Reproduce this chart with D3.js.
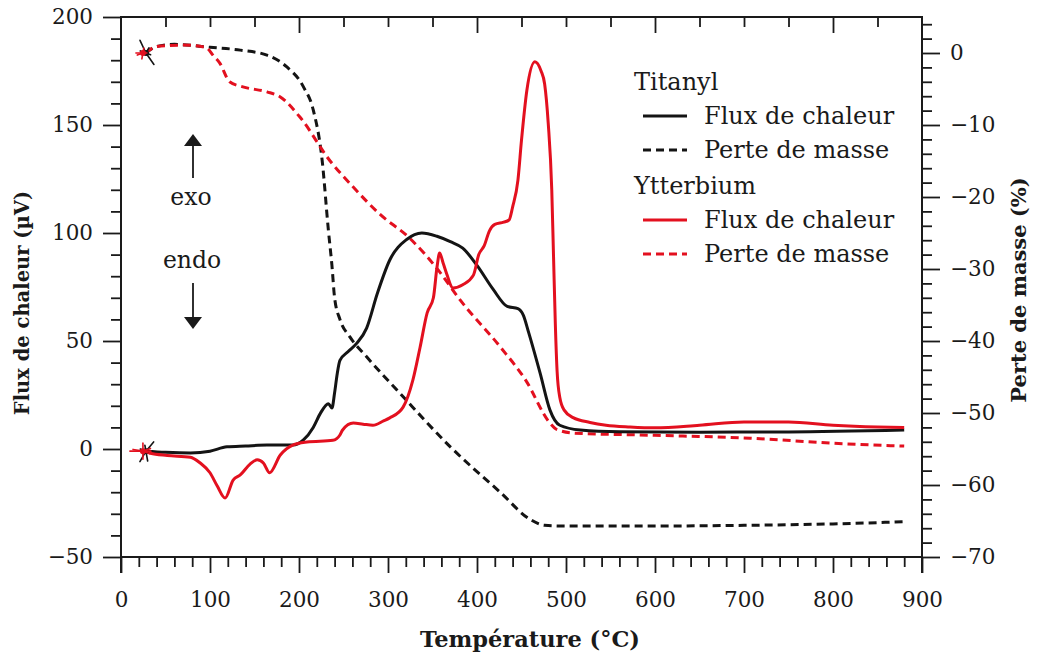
<!DOCTYPE html>
<html>
<head>
<meta charset="utf-8">
<script src="https://cdn.jsdelivr.net/npm/d3@7"></script>
<style>
  body { margin: 0; background: #fff; }
  text { font-family: "DejaVu Serif", serif; fill: #1a1a1a; }
</style>
</head>
<body>
<svg id="chart" width="1039" height="661"></svg>
<script>
// ---- Titanyl: heat flow (µV) ----
const tiFluxT = [28, 50, 78, 100, 119, 140, 164, 193, 205, 216, 224, 233, 237, 240, 243, 246, 255, 265, 276, 288, 302, 321, 338, 355, 370, 384, 400, 418, 434, 446, 452, 458, 471, 482, 493, 516, 560, 650, 750, 880];
const tiFluxV = [-1, -1.5, -1.8, -1, 1, 1.4, 1.8, 1.8, 4.2, 10, 16.5, 21, 19, 26, 35, 41, 45, 49, 56, 72, 87.5, 97, 100, 98.5, 96, 93, 85, 74, 66, 65, 62, 54, 35, 18, 11, 8.8, 8, 7.8, 7.9, 8.8];

// ---- Titanyl: mass loss (%) ----
const tiMassT = [28, 40, 60, 100, 134, 164, 186, 205, 216, 226, 233, 237, 240, 246, 257, 276, 313, 370, 426, 460, 476, 500, 600, 700, 800, 880];
const tiMassV = [0, 0.9, 1.2, 0.8, 0.4, -0.3, -1.9, -4.7, -7.9, -14.9, -24.6, -29.5, -34, -37, -39.4, -42.2, -47.2, -54.7, -61, -64.8, -65.6, -65.7, -65.7, -65.6, -65.4, -65.1];

// ---- Ytterbium: heat flow (µV) ----
const ybFluxT = [28, 33, 52, 78, 89, 100, 108, 117, 126, 134, 145, 153, 160, 167, 179, 193, 209, 238, 246, 249, 261, 272, 283, 295, 302, 317, 328, 336, 344, 351, 355, 358, 362, 366, 373, 384, 396, 402, 408, 414, 420, 430, 436, 440, 446, 450, 456, 465, 472, 476, 480, 484, 486, 488, 490, 493, 498, 508, 527, 545, 572, 600, 650, 700, 750, 800, 850, 880];
const ybFluxV = [-1, -2, -3, -3.8, -6.5, -11, -17, -22.7, -14.4, -12, -7, -5, -6.5, -11, -2.8, 1.8, 3.2, 4, 6.5, 8.8, 12, 11.5, 11, 13, 14.4, 19.4, 32, 47, 63, 70, 84, 90.7, 86, 81, 74.5, 76, 80.5, 90, 94, 101, 104, 105, 106, 112, 124.5, 143, 166, 179.3, 175, 169, 151, 120, 89, 58, 36, 24, 18, 14.5, 12.3, 11, 10.2, 9.8, 11, 12.5, 12.5, 11, 10.2, 10];

// ---- Ytterbium: mass loss (%) ----
const ybMassT = [28, 40, 70, 95, 104, 111, 122, 137, 164, 179, 201, 235, 260, 290, 325, 358, 381, 426, 455, 482, 490, 510, 600, 707, 800, 880];
const ybMassV = [0, 0.9, 1.1, 0.8, -0.4, -1.4, -4, -4.7, -5.4, -6.1, -8.9, -15, -18.5, -22.3, -25.8, -30.4, -34.3, -40.8, -45.5, -51.4, -52.3, -52.8, -53.1, -53.5, -54.2, -54.6];

// ---- axes ----
const xDomain = [0, 900];
const fluxDomain = [-50, 200];
const massDomain = [-70, 5];
const xMajor = d3.range(0, 901, 100);
const xMinor = d3.range(0, 901, 20).filter(v => v % 100 !== 0);
const xTop = d3.range(50, 900, 50);
const xTopMajor = [200, 400, 600, 800];
const fluxMajor = d3.range(-50, 201, 50);
const fluxMinor = d3.range(-50, 201, 10).filter(v => v % 50 !== 0);
const massMajor = d3.range(-70, 1, 10);
const massMinor = d3.range(-70, 5, 2).filter(v => v % 10 !== 0);

const legendGroups = ["Titanyl", "Ytterbium"];
const legendItems = ["Flux de chaleur", "Perte de masse"];

const RED = "#e3101f";
const BLACK = "#141414";

const svg = d3.select("#chart");
const pLeft = 121, pRight = 922, pTop = 17, pBottom = 557;

const x = d3.scaleLinear(xDomain, [pLeft, pRight]);
const yL = d3.scaleLinear(fluxDomain, [pBottom, pTop]);
const yR = d3.scaleLinear(massDomain, [pBottom, pTop]);

function styleAxis(g) {
  g.selectAll(".domain").remove();
  g.selectAll("line").attr("stroke", "#1a1a1a").attr("stroke-width", 1.8);
  g.selectAll("text").attr("font-size", 21.5).attr("fill", "#1a1a1a");
}

// bottom axis
svg.append("g").attr("transform", `translate(0,${pBottom})`)
  .call(d3.axisBottom(x).tickValues(xMinor).tickSize(10).tickFormat(""))
  .call(styleAxis);
svg.append("g").attr("transform", `translate(0,${pBottom})`)
  .call(d3.axisBottom(x).tickValues(xMajor).tickSize(16).tickPadding(19).tickFormat(d3.format("d")))
  .call(styleAxis);

// top axis (inward ticks, no labels)
svg.append("g").attr("transform", `translate(0,${pTop})`)
  .call(d3.axisBottom(x).tickValues(xTop.filter(v => !xTopMajor.includes(v))).tickSize(10).tickFormat(""))
  .call(styleAxis);
svg.append("g").attr("transform", `translate(0,${pTop})`)
  .call(d3.axisBottom(x).tickValues(xTopMajor).tickSize(16).tickFormat(""))
  .call(styleAxis);

// left axis
svg.append("g").attr("transform", `translate(${pLeft},0)`)
  .call(d3.axisLeft(yL).tickValues(fluxMinor).tickSize(10).tickFormat(""))
  .call(styleAxis);
svg.append("g").attr("transform", `translate(${pLeft},0)`)
  .call(d3.axisLeft(yL).tickValues(fluxMajor).tickSize(18).tickPadding(10).tickFormat(d3.format("d")))
  .call(styleAxis);

// right axis
svg.append("g").attr("transform", `translate(${pRight},0)`)
  .call(d3.axisRight(yR).tickValues(massMinor).tickSize(10).tickFormat(""))
  .call(styleAxis);
svg.append("g").attr("transform", `translate(${pRight},0)`)
  .call(d3.axisRight(yR).tickValues(massMajor).tickSize(18).tickPadding(10).tickFormat(d3.format("d")))
  .call(styleAxis);

// frame
const frame = svg.append("g").attr("stroke", "#1a1a1a").attr("stroke-width", 2).attr("fill", "none");
frame.append("path").attr("d", `M${pLeft},${pBottom + 16}V${pTop}H${pRight}V${pBottom + 16}`);
frame.append("path").attr("d", `M${pLeft},${pBottom}H${pRight}`);

// curves
const lineFlux = d3.line().curve(d3.curveMonotoneX).x(d => x(d[0])).y(d => yL(d[1]));
const lineMass = d3.line().curve(d3.curveMonotoneX).x(d => x(d[0])).y(d => yR(d[1]));
const zip = (a, b) => a.map((v, i) => [v, b[i]]);

const plot = svg.append("g").attr("fill", "none").attr("stroke-width", 3)
  .attr("stroke-linejoin", "round");

plot.append("path").datum(zip(tiMassT, tiMassV)).attr("d", lineMass)
  .attr("stroke", BLACK).attr("stroke-dasharray", "8,5");
plot.append("path").datum(zip(ybMassT, ybMassV)).attr("d", lineMass)
  .attr("stroke", RED).attr("stroke-dasharray", "8,5");
plot.append("path").datum(zip(tiFluxT, tiFluxV)).attr("d", lineFlux)
  .attr("stroke", BLACK);
plot.append("path").datum(zip(ybFluxT, ybFluxV)).attr("d", lineFlux)
  .attr("stroke", RED);

// small spikes where each recording starts
function burst(cx, cy, color, spikes) {
  const g = svg.append("g").attr("stroke", color).attr("stroke-width", 1.6).attr("stroke-linecap", "round");
  spikes.forEach(([a, r]) => {
    const rad = a * Math.PI / 180;
    g.append("line").attr("x1", cx).attr("y1", cy)
      .attr("x2", cx + r * Math.cos(rad)).attr("y2", cy + r * Math.sin(rad));
  });
  g.append("circle").attr("cx", cx).attr("cy", cy).attr("r", 3).attr("fill", color).attr("stroke", "none");
}
burst(x(tiMassT[0]), yR(tiMassV[0]), BLACK, [[-115, 14], [55, 14], [200, 6], [20, 5], [-60, 6]]);
burst(x(ybMassT[0]) - 3, yR(ybMassV[0]), RED, [[180, 7], [100, 6], [-80, 5], [160, 6], [0, 4]]);
burst(x(tiFluxT[0]), yL(tiFluxV[0]), BLACK, [[-50, 12], [120, 12], [80, 10], [-100, 6], [200, 6]]);
burst(x(ybFluxT[0]) - 3, yL(ybFluxV[0]), RED, [[180, 13], [190, 10], [-90, 8], [90, 8], [-20, 8], [20, 7], [0, 8]]);

// exo / endo marker
const ann = svg.append("g");
const ax = 193;
ann.append("line").attr("x1", ax).attr("x2", ax).attr("y1", 178).attr("y2", 142).attr("stroke", "#1a1a1a").attr("stroke-width", 1.8);
ann.append("path").attr("d", `M${ax},134L${ax - 9},146L${ax + 9},146Z`).attr("fill", "#1a1a1a");
ann.append("text").attr("x", 191).attr("y", 205).attr("text-anchor", "middle").attr("font-size", 23.5).text("exo");
ann.append("text").attr("x", 192).attr("y", 268).attr("text-anchor", "middle").attr("font-size", 23.5).text("endo");
ann.append("line").attr("x1", ax).attr("x2", ax).attr("y1", 283).attr("y2", 320).attr("stroke", "#1a1a1a").attr("stroke-width", 1.8);
ann.append("path").attr("d", `M${ax},329L${ax - 9},317L${ax + 9},317Z`).attr("fill", "#1a1a1a");

// legend
const leg = svg.append("g").attr("font-size", 24);
legendGroups.forEach((grp, gi) => {
  const color = gi === 0 ? BLACK : RED;
  const y0 = 82 + gi * 104;
  leg.append("text").attr("x", 634).attr("y", y0 + 8).text(grp);
  legendItems.forEach((item, ii) => {
    const yy = y0 + 34 * (ii + 1);
    leg.append("line").attr("x1", 643).attr("x2", 687).attr("y1", yy).attr("y2", yy)
      .attr("stroke", color).attr("stroke-width", 3)
      .attr("stroke-dasharray", ii === 1 ? "8,5" : null);
    leg.append("text").attr("x", 704).attr("y", yy + 8).text(item);
  });
});

// axis titles
svg.append("text").attr("x", 530).attr("y", 647).attr("text-anchor", "middle")
  .attr("font-size", 22.5).attr("font-weight", "bold").text("Température (°C)");
svg.append("text").attr("transform", "translate(29,303) rotate(-90)").attr("text-anchor", "middle")
  .attr("font-size", 19.5).attr("font-weight", "bold").text("Flux de chaleur (µV)");
svg.append("text").attr("transform", "translate(1026,290) rotate(-90)").attr("text-anchor", "middle")
  .attr("font-size", 21).attr("font-weight", "bold").text("Perte de masse (%)");
</script>
</body>
</html>
